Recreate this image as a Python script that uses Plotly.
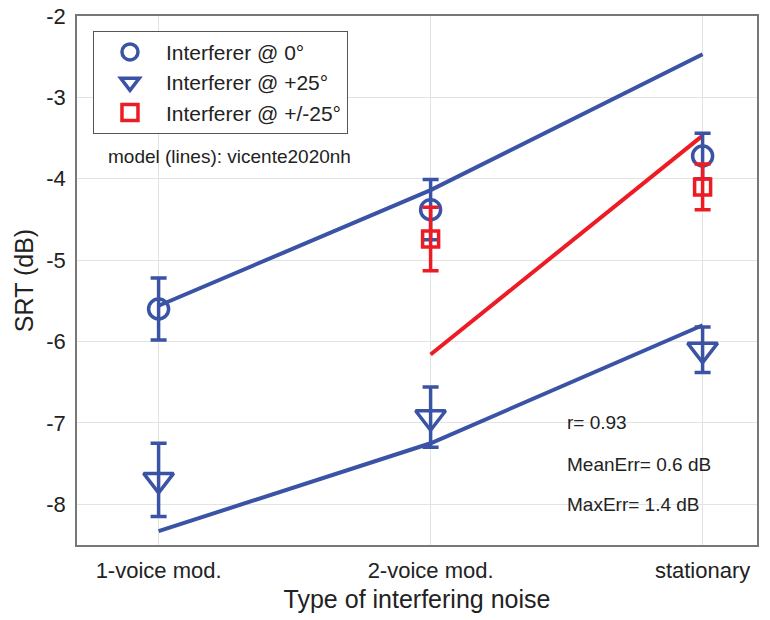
import plotly.graph_objects as go

categories = ["1-voice mod.", "2-voice mod.", "stationary"]
x_pos = [0, 1, 2]
y_ticks = [-8, -7, -6, -5, -4, -3, -2]
y_ticklabels = ["-8", "-7", "-6", "-5", "-4", "-3", "-2"]

# measured data (mean, error)
srt_0 = [-5.60, -4.38, -3.72]
err_0 = [0.38, 0.37, 0.28]
srt_p25 = [-7.70, -6.93, -6.10]
err_p25 = [0.45, 0.37, 0.28]
x_pm25 = [1, 2]
srt_pm25 = [-4.74, -4.10]
err_pm25 = [0.39, 0.28]

# model predictions (lines)
model_0 = [-5.56, -4.14, -2.47]
model_p25 = [-8.33, -7.25, -5.80]
model_pm25 = [-6.16, -3.47]

blue = "#3a53a4"
red = "#ed1c24"
font = "Liberation Sans, Arial, sans-serif"

fig = go.Figure()

fig.add_trace(go.Scatter(x=x_pos, y=model_0, mode="lines", line=dict(color=blue, width=4), showlegend=False))
fig.add_trace(go.Scatter(x=x_pos, y=model_p25, mode="lines", line=dict(color=blue, width=4), showlegend=False))
fig.add_trace(go.Scatter(x=x_pm25, y=model_pm25, mode="lines", line=dict(color=red, width=4), showlegend=False))

fig.add_trace(go.Scatter(
    x=x_pos, y=srt_0, mode="markers", name="Interferer @ 0°",
    marker=dict(symbol="circle-open", size=20, color=blue, line=dict(width=3.5)),
    error_y=dict(type="data", array=err_0, color=blue, thickness=3.5, width=8)))
fig.add_trace(go.Scatter(
    x=x_pos, y=srt_p25, mode="markers", name="Interferer @ +25°",
    marker=dict(symbol="triangle-down-open", size=26, color=blue, line=dict(width=3.5)),
    error_y=dict(type="data", array=err_p25, color=blue, thickness=3.5, width=8)))
fig.add_trace(go.Scatter(
    x=x_pm25, y=srt_pm25, mode="markers", name="Interferer @ +/-25°",
    marker=dict(symbol="square-open", size=16, color=red, line=dict(width=3.5)),
    error_y=dict(type="data", array=err_pm25, color=red, thickness=3.5, width=8)))

annots = [
    dict(x=0.043, y=0.735, text="model (lines): vicente2020nh"),
    dict(x=0.717, y=0.232, text="r= 0.93"),
    dict(x=0.717, y=0.152, text="MeanErr= 0.6 dB"),
    dict(x=0.717, y=0.076, text="MaxErr= 1.4 dB"),
]
for a in annots:
    fig.add_annotation(xref="paper", yref="paper", x=a["x"], y=a["y"], text=a["text"],
                       showarrow=False, xanchor="left", yanchor="middle",
                       font=dict(family=font, size=19, color="#222"))

fig.update_layout(
    width=770, height=620,
    margin=dict(l=77, r=13, t=16, b=75),
    paper_bgcolor="white", plot_bgcolor="white",
    font=dict(family=font, color="#222"),
    legend=dict(x=0.0235, y=0.972, xanchor="left", yanchor="top",
                bordercolor="#555", borderwidth=1, bgcolor="white",
                font=dict(family=font, size=21, color="#222"),
                itemwidth=62, tracegroupgap=0),
    xaxis=dict(range=[-0.3, 2.2], tickvals=x_pos, ticktext=categories,
               showgrid=True, gridcolor="#e3e3e3", zeroline=False,
               showline=True, linecolor="#777", linewidth=1.5, mirror=True,
               ticks="", tickfont=dict(size=22), ticklabelstandoff=5,
               ticklabeloverflow="allow", automargin=False,
               title=dict(text="Type of interfering noise", font=dict(size=25), standoff=8)),
    yaxis=dict(range=[-8.5, -2], tickvals=y_ticks, ticktext=y_ticklabels,
               showgrid=True, gridcolor="#e3e3e3", zeroline=False,
               showline=True, linecolor="#777", linewidth=1.5, mirror=True,
               ticks="", tickfont=dict(size=22), ticklabelstandoff=5,
               ticklabeloverflow="allow", automargin=False,
               title=dict(text="SRT (dB)", font=dict(size=25), standoff=6)),
)

fig.write_html("out.html", config={"displayModeBar": False},
               post_script="document.body.style.margin='0';")
